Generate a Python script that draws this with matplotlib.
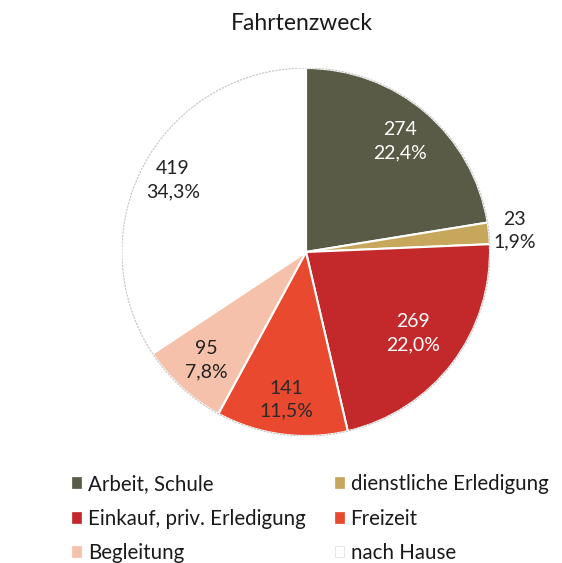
import matplotlib
matplotlib.use("Agg")
import matplotlib.pyplot as plt
import numpy as np
from matplotlib.patches import Patch, Circle

categories = ["Arbeit, Schule", "dienstliche Erledigung", "Einkauf, priv. Erledigung",
              "Freizeit", "Begleitung", "nach Hause"]
values = [274, 23, 269, 141, 95, 419]
percent_labels = ["22,4%", "1,9%", "22,0%", "11,5%", "7,8%", "34,3%"]
colors = ["#595b47", "#c6a75b", "#c3292b", "#e9492f", "#f5c1aa", "#ffffff"]
text_colors = ["white", "#222222", "white", "#2a2a2a", "#222222", "#222222"]
label_dist = [0.79, 1.14, 0.73, 0.81, 0.80, 0.82]

plt.rcParams['font.family'] = ['Lato', 'DejaVu Sans']

fig = plt.figure(figsize=(5.62, 5.63), dpi=100)
cx, cy, r = 306, 252, 184
W, H = 562, 563
ax = fig.add_axes([(cx - r) / W, (H - cy - r) / H, 2 * r / W, 2 * r / H])

wedges, _ = ax.pie(values, colors=colors, startangle=90, counterclock=False,
                   radius=1.0, wedgeprops=dict(edgecolor="white", linewidth=1.5))
ax.add_patch(Circle((0, 0), 1.0, fill=False, edgecolor="#c4c4c4", linewidth=0.8,
                    linestyle=(0, (2, 1)), zorder=3))
ax.set_xlim(-1, 1)
ax.set_ylim(-1, 1)
ax.set_aspect("equal")
ax.axis("off")

for w, v, p, tc, d in zip(wedges, values, percent_labels, text_colors, label_dist):
    ang = np.deg2rad((w.theta1 + w.theta2) / 2)
    x, y = d * np.cos(ang), d * np.sin(ang)
    ax.text(x, y, f"{v}\n{p}", ha="center", va="center", color=tc, fontsize=14,
            linespacing=1.45, zorder=4)

fig.text(0.537, 1 - 30 / 563, "Fahrtenzweck", ha="center", va="baseline",
         fontsize=16.5, color="#1a1a1a")

handles = [Patch(facecolor=c, edgecolor="#dddddd" if c == "#ffffff" else c, linewidth=0.5)
           for c in colors]
order = [0, 2, 4, 1, 3, 5]
leg = fig.legend([handles[i] for i in order], [categories[i] for i in order],
                 ncol=2, loc="upper left", bbox_to_anchor=(72 / 562, 1 - 474 / 563),
                 frameon=False, fontsize=14.8, handlelength=0.44, handleheight=0.44,
                 handletextpad=0.34, columnspacing=1.4, labelspacing=0.71,
                 borderpad=0, borderaxespad=0)
for t in leg.get_texts():
    t.set_color("#1a1a1a")

fig.savefig("out.png", dpi=100, facecolor="white")
